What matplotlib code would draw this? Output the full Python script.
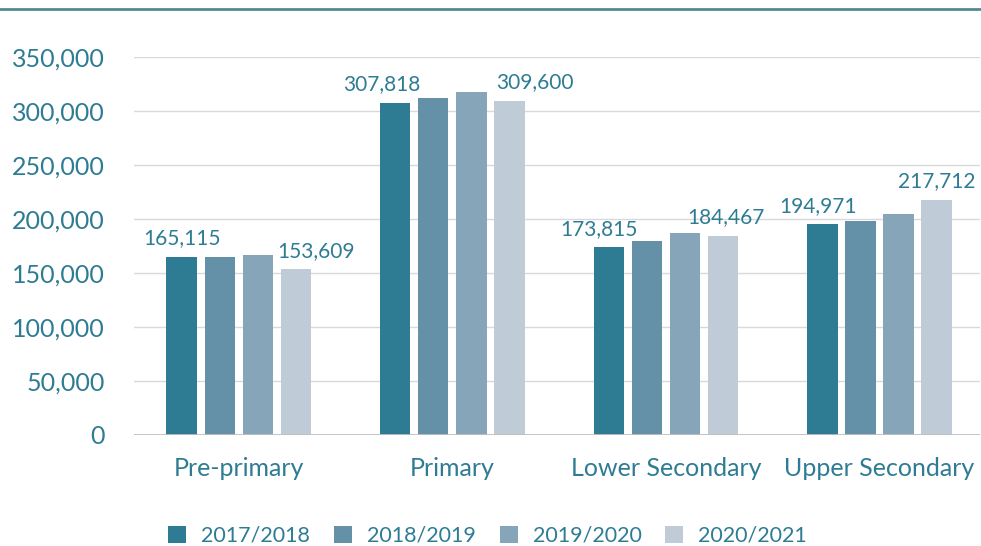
import matplotlib.pyplot as plt
import matplotlib.lines as mlines
import numpy as np

plt.rcParams['font.family'] = ['Lato', 'DejaVu Sans']

# Data
categories = ["Pre-primary", "Primary", "Lower Secondary", "Upper Secondary"]
years = ["2017/2018", "2018/2019", "2019/2020", "2020/2021"]
values = {
    "2017/2018": [165115, 307818, 173815, 194971],
    "2018/2019": [165000, 312000, 179600, 198000],
    "2019/2020": [166700, 317600, 187000, 204300],
    "2020/2021": [153609, 309600, 184467, 217712],
}
colors = ["#2E7C93", "#6490A8", "#87A5B8", "#BFCCD7"]
text_color = "#2E7C93"

fig = plt.figure(figsize=(9.81, 5.46), dpi=100)
ax = fig.add_axes([0.1366, 0.2033, 0.8624, 0.6923])

x = np.arange(len(categories))
width = 0.142
step = 0.178
for i, yr in enumerate(years):
    ax.bar(x + (i - 1.5) * step, values[yr], width, color=colors[i], label=yr, zorder=3)

# data labels on first and last series (nudged sideways in px to avoid overlaps)
first_dx = [0, -14, -10, -5]
last_dx = [20, 26, 3, 0]
for j in range(len(categories)):
    v = values[years[0]][j]
    ax.annotate(f"{v:,}", (x[j] - 1.5 * step, v), xytext=(first_dx[j] * 0.72, 6),
                textcoords="offset points", ha="center", va="bottom",
                fontsize=15, color=text_color)
    v = values[years[3]][j]
    ax.annotate(f"{v:,}", (x[j] + 1.5 * step, v), xytext=(last_dx[j] * 0.72, 6),
                textcoords="offset points", ha="center", va="bottom",
                fontsize=15, color=text_color)

ax.set_ylim(0, 350000)
ax.set_xlim(-0.49, 3.47)
ax.set_yticks(np.arange(0, 350001, 50000))
ax.yaxis.set_major_formatter(plt.FuncFormatter(lambda v, p: f"{int(v):,}"))
ax.set_xticks(x)
ax.set_xticklabels(categories)
ax.tick_params(axis="both", length=0, labelsize=18, labelcolor=text_color)
ax.tick_params(axis="y", pad=21)
ax.tick_params(axis="x", pad=16)
ax.grid(axis="y", color="#D9D9D9", linewidth=1, zorder=0)
for s in ax.spines.values():
    s.set_visible(False)
ax.axhline(0, color="#BFBFBF", linewidth=2, zorder=4)

ax.legend(loc="center", bbox_to_anchor=(0.418, -0.267), ncol=4, frameon=False,
          fontsize=15.5, labelcolor=text_color, handlelength=0.84, handleheight=0.84,
          columnspacing=1.1, handletextpad=0.7)

fig.add_artist(mlines.Line2D([0, 1], [1 - 9 / 546, 1 - 9 / 546], color="#4F8A96", linewidth=2))

fig.savefig("out.png", dpi=100)
